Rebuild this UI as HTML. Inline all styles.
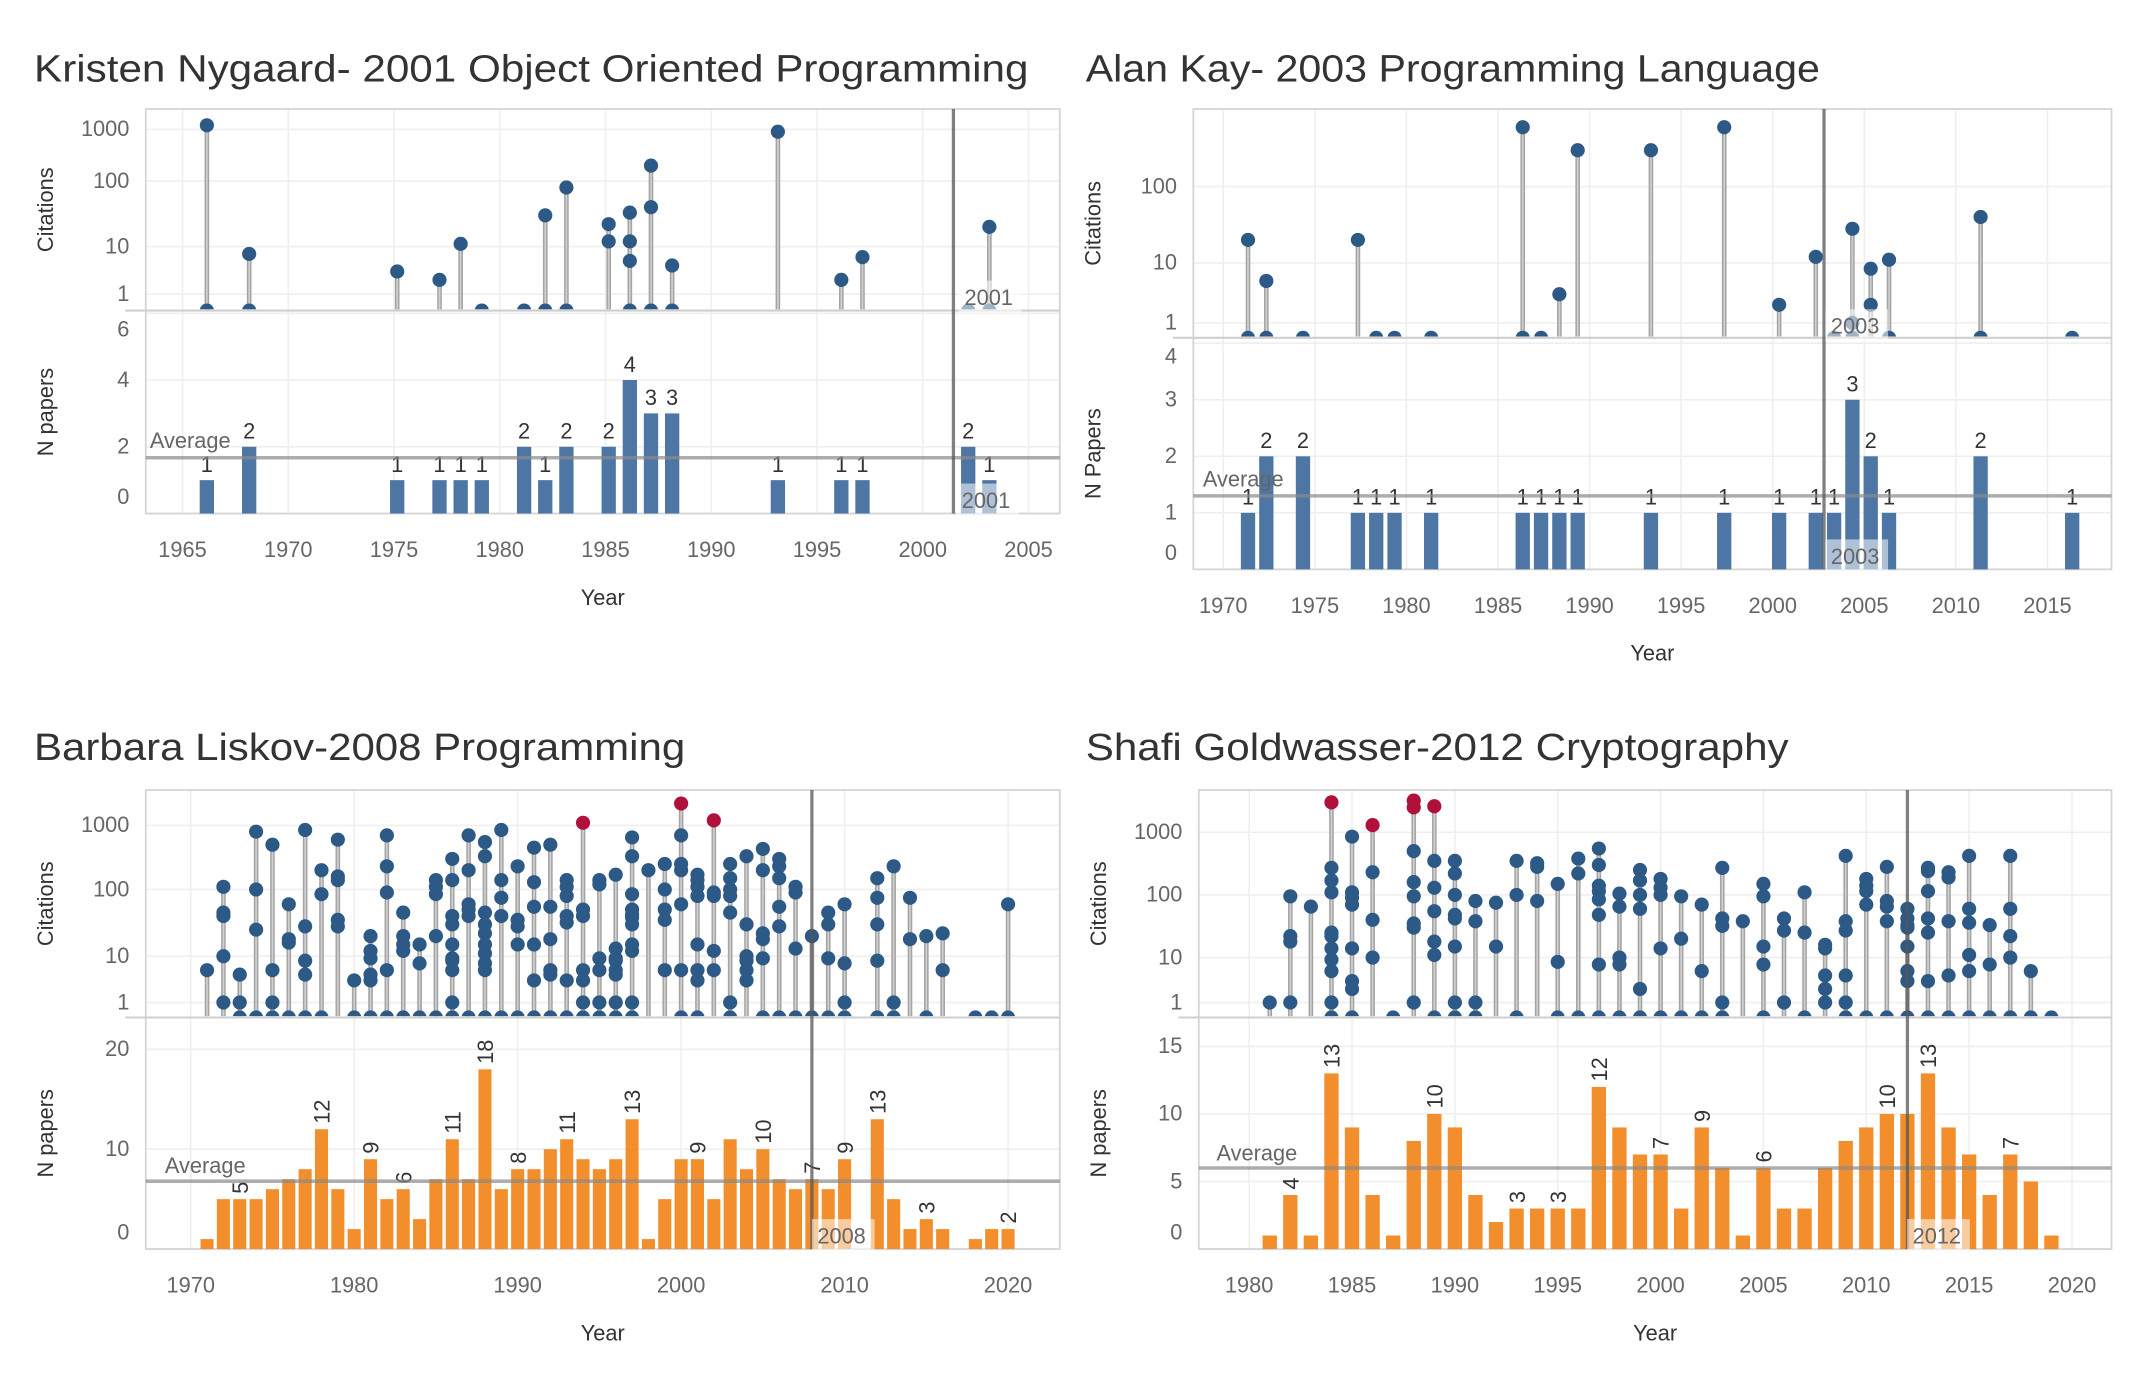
<!DOCTYPE html>
<html><head><meta charset="utf-8"><style>
html,body{margin:0;padding:0;background:#fff;}
svg{display:block;font-family:"Liberation Sans",sans-serif;}
</style></head><body>
<svg id="chart" width="2136" height="1388" viewBox="0 0 1568 1019" preserveAspectRatio="none" xmlns="http://www.w3.org/2000/svg"></svg>
<script>
// ===== DATA =====
const nygaardCitations = [[1966,[1200,0]],[1968,[7,0]],[1975,[3]],[1977,[2]],[1978,[11]],[1979,[0]],[1981,[0]],[1982,[30,0]],[1983,[80,0]],[1985,[22,12]],[1986,[33,12,5,0]],[1987,[200,40,0]],[1988,[4,0]],[1993,[900]],[1996,[2]],[1997,[6]],[2002,[0]],[2003,[20,0]]];
const nygaardBarYears = [1966,1968,1975,1977,1978,1979,1981,1982,1983,1985,1986,1987,1988,1993,1996,1997,2002,2003];
const nygaardBarCounts = [1,2,1,1,1,1,2,1,2,2,4,3,3,1,1,1,2,1];

const kayCitations = [[1971,[20,0]],[1972,[5,0]],[1974,[0]],[1977,[20]],[1978,[0]],[1979,[0]],[1981,[0]],[1986,[600,0]],[1987,[0]],[1988,[3]],[1989,[300]],[1993,[300]],[1997,[600]],[2000,[2]],[2002,[12]],[2003,[0]],[2004,[28,1,0]],[2005,[8,2]],[2006,[11,0]],[2011,[40,0]],[2016,[0]]];
const kayBarYears = [1971,1972,1974,1977,1978,1979,1981,1986,1987,1988,1989,1993,1997,2000,2002,2003,2004,2005,2006,2011,2016];
const kayBarCounts = [1,2,2,1,1,1,1,1,1,1,1,1,1,1,1,1,3,2,1,2,1];

const liskovCitations = [[1971,[5]],[1972,[110,45,40,10,1]],[1973,[4,1,0]],[1974,[800,100,25,0]],[1975,[500,5,1,0]],[1976,[60,18,16,0]],[1977,[850,28,8,4,0]],[1978,[200,85,0]],[1979,[600,160,140,35,28]],[1980,[3,0]],[1981,[20,12,9,4,3,0]],[1982,[700,230,90,5,0]],[1983,[45,20,15,12,0]],[1984,[15,7,0]],[1985,[140,110,85,20,0]],[1986,[300,140,40,30,15,9,8,5,1,0]],[1987,[700,200,60,50,40,0]],[1988,[550,330,45,30,22,15,11,7,5,0]],[1989,[850,140,75,40,0]],[1990,[230,35,28,15,0]],[1991,[450,130,55,15,3,0]],[1992,[500,55,18,5,4,0]],[1993,[140,110,80,40,32,3,0]],[1994,[1100,50,40,5,3,1,0]],[1995,[140,120,9,5,1,0]],[1996,[170,13,9,8,5,4,1,0]],[1997,[650,330,85,50,42,38,30,15,12,1,0]],[1998,[200]],[1999,[250,100,50,35,5]],[2000,[2200,700,250,200,60,5,0]],[2001,[170,140,110,80,15,5,3,0]],[2002,[1200,90,80,12,5]],[2003,[250,150,100,80,45,1,0]],[2004,[330,30,10,8,5,3]],[2005,[430,200,22,18,9,0]],[2006,[300,230,150,55,28,0]],[2007,[110,90,13,0]],[2008,[20,0]],[2009,[45,30,9,0]],[2010,[60,7,1,0]],[2012,[150,75,30,8,0]],[2013,[230,1,0]],[2014,[75,18]],[2015,[20,0]],[2016,[22,5]],[2018,[0]],[2019,[0]],[2020,[60,0]]];
const liskovBarYears = [1971,1972,1973,1974,1975,1976,1977,1978,1979,1980,1981,1982,1983,1984,1985,1986,1987,1988,1989,1990,1991,1992,1993,1994,1995,1996,1997,1998,1999,2000,2001,2002,2003,2004,2005,2006,2007,2008,2009,2010,2012,2013,2014,2015,2016,2018,2019,2020];
const liskovBarCounts = [1,5,5,5,6,7,8,12,6,2,9,5,6,3,7,11,7,18,6,8,8,10,11,9,8,9,13,1,5,9,9,5,11,8,10,7,6,7,6,9,13,5,2,3,2,1,2,2];
const liskovLabelYears = [1973,1978,1981,1983,1986,1988,1990,1993,1997,2001,2005,2008,2010,2012,2015,2020];

const goldwasserCitations = [[1981,[1]],[1982,[95,22,18,1]],[1983,[65]],[1984,[3000,270,170,110,25,22,14,9,5,1,0]],[1985,[850,110,90,70,14,3,2,0]],[1986,[1300,230,40,10]],[1987,[0]],[1988,[3200,2500,500,160,95,35,30,1]],[1989,[2600,350,130,55,18,11,0]],[1990,[350,220,100,48,42,15,1,0]],[1991,[80,38,1,0]],[1992,[75,15]],[1993,[350,100,0]],[1994,[320,280,80]],[1995,[150,8,0]],[1996,[380,220,0]],[1997,[550,300,140,115,85,48,7,0]],[1998,[105,65,10,7,0]],[1999,[250,170,100,60,2,0]],[2000,[180,130,100,14,0]],[2001,[95,20,0]],[2002,[70,5,0]],[2003,[270,42,32,1,0]],[2004,[38]],[2005,[150,95,15,7,0]],[2006,[42,27,1]],[2007,[110,25,0]],[2008,[16,14,4,2,1]],[2009,[420,38,27,4,1,0]],[2010,[180,140,115,70,0]],[2011,[280,80,65,38,0]],[2012,[60,42,33,30,15,5,3,0]],[2013,[270,240,115,42,25,3,0]],[2014,[230,190,38,4,0]],[2015,[420,60,36,11,5,0]],[2016,[33,7,0]],[2017,[420,60,22,10,0]],[2018,[5,0]],[2019,[0]]];
const goldwasserBarYears = [1981,1982,1983,1984,1985,1986,1987,1988,1989,1990,1991,1992,1993,1994,1995,1996,1997,1998,1999,2000,2001,2002,2003,2004,2005,2006,2007,2008,2009,2010,2011,2012,2013,2014,2015,2016,2017,2018,2019];
const goldwasserBarCounts = [1,4,1,13,9,4,1,8,10,9,4,2,3,3,3,3,12,9,7,7,3,9,6,1,6,3,3,6,8,9,10,10,13,9,7,4,7,5,1];
const goldwasserLabelYears = [1982,1984,1989,1993,1995,1997,2000,2002,2005,2011,2013,2017];

const awardYears = [2001,2003,2008,2012];
const averages = [1.67,1.3,6.8,6.0];
const citTickLabels = ["1","10","100","1000"];

// ===== LAYOUT =====
const panels = [
 {id:'nygaard',title:'Kristen Nygaard- 2001 Object Oriented Programming',titleX:25,titleW:730,cit:nygaardCitations,by:nygaardBarYears,bc:nygaardBarCounts,labels:null,
  L:107,R:778,T:80,M:228,B:377,ya:1965,xa:134,yb:2005,xb:755,off:0.15,awardOff:0.45,citPos:[216,181,133,95],zero:377,unit:24.5,
  pTicks:[0,2,4,6],xTicks:[1965,1970,1975,1980,1985,1990,1995,2000,2005],color:'#4e76a5',red:false,papersTitle:'N papers',titleY:60,avgLabel:[110,329],annot:[[708,221],[706,370]]},
 {id:'kay',title:'Alan Kay- 2003 Programming Language',titleX:797,titleW:539,cit:kayCitations,by:kayBarYears,bc:kayBarCounts,labels:null,
  L:876,R:1550,T:80,M:248,B:418,ya:1970,xa:898,yb:2015,xb:1503,off:0.35,awardOff:-0.2,citPos:[237,193,137,81],zero:418,unit:41.5,
  pTicks:[0,1,2,3,4],xTicks:[1970,1975,1980,1985,1990,1995,2000,2005,2010,2015],color:'#4e76a5',red:false,papersTitle:'N Papers',titleY:60,avgLabel:[883,357],annot:[[1344,242],[1344,411]]},
 {id:'liskov',title:'Barbara Liskov-2008 Programming',titleX:25,titleW:478,cit:liskovCitations,by:liskovBarYears,bc:liskovBarCounts,labels:liskovLabelYears,
  L:107,R:778,T:580,M:747,B:917,ya:1970,xa:140,yb:2020,xb:740,off:0,awardOff:0,citPos:[736,702,653,606],zero:917,unit:7.33,
  pTicks:[0,10,20],xTicks:[1970,1980,1990,2000,2010,2020],color:'#f28e2b',red:true,papersTitle:'N papers',titleY:558,avgLabel:[121,861],annot:[[600,910]]},
 {id:'goldwasser',title:'Shafi Goldwasser-2012 Cryptography',titleX:797,titleW:516,cit:goldwasserCitations,by:goldwasserBarYears,bc:goldwasserBarCounts,labels:goldwasserLabelYears,
  L:880,R:1550,T:580,M:747,B:917,ya:1980,xa:917,yb:2020,xb:1521,off:0,awardOff:0,citPos:[736,703,657,611],zero:917,unit:9.92,
  pTicks:[0,5,10,15],xTicks:[1980,1985,1990,1995,2000,2005,2010,2015,2020],color:'#f28e2b',red:true,papersTitle:'N papers',titleY:558,avgLabel:[893,852],annot:[[1404,910]]}
];

const NS='http://www.w3.org/2000/svg';
const svg=document.getElementById('chart');
function mk(tag,attrs,parent,text){const e=document.createElementNS(NS,tag);for(const k in attrs)e.setAttribute(k,attrs[k]);if(text!==undefined)e.textContent=text;(parent||svg).appendChild(e);return e;}
const defs=mk('defs',{});

panels.forEach((p,pi)=>{
  const g=mk('g',{});
  
  
  const x=y=>p.xa+(y-p.ya)*(p.xb-p.xa)/(p.yb-p.ya);
  const ppy=(p.xb-p.xa)/(p.yb-p.ya);
  const base=p.M;
  const citY=c=>{ if(c<=0) return base; const l=Math.log10(c); const cp=p.citPos;
    if(l<=1) return cp[0]+(cp[1]-cp[0])*l;
    if(l<=2) return cp[1]+(cp[2]-cp[1])*(l-1);
    return cp[2]+(cp[3]-cp[2])*(l-2); };
  const py=v=>p.zero-v*p.unit;

  const cp=mk('clipPath',{id:'clip-'+p.id},defs);
  mk('rect',{x:p.L,y:p.T-20,width:p.R-p.L,height:p.M-p.T+19},cp);

  const t=mk('text',{x:p.titleX,y:p.titleY,'font-size':28,fill:'#333',textLength:p.titleW,lengthAdjust:'spacingAndGlyphs'},g,p.title);
  
  

  // gridlines
  p.xTicks.forEach(yr=>{ const l=mk('line',{x1:x(yr),x2:x(yr),y1:p.T,y2:p.B,stroke:'#efefef','stroke-width':1.2},g);
     });
  p.citPos.forEach((yy,i)=>{ if(yy<p.T+8) return; const l=mk('line',{x1:p.L,x2:p.R,y1:yy,y2:yy,stroke:'#efefef','stroke-width':1.2},g);
     
    const tl=mk('text',{x:p.L-12,y:yy+5,'font-size':16,fill:'#666','text-anchor':'end'},g,citTickLabels[i]);
     });
  p.pTicks.forEach(v=>{ const yy=py(v); const l=mk('line',{x1:p.L,x2:p.R,y1:yy,y2:yy,stroke:'#efefef','stroke-width':1.2},g);
     
    const ly=Math.min(Math.max(yy,p.M+14),p.B-12);
    const tl=mk('text',{x:p.L-12,y:ly+5,'font-size':16,fill:'#666','text-anchor':'end'},g,String(v));
     });

  // frame
  const fr=mk('rect',{x:p.L,y:p.T,width:p.R-p.L,height:p.B-p.T,fill:'none',stroke:'#d4d4d4','stroke-width':1.3},g);
   

  // bars
  p.by.forEach((yr,i)=>{ const cx=x(yr+p.off); const w=Math.min(10.5,ppy*0.8); const v=p.bc[i];
    const r=mk('rect',{x:cx-w/2,y:py(v),width:w,height:v*p.unit,fill:p.color},g);
     
    if(!p.labels){ const tl=mk('text',{x:cx,y:py(v)-6,'font-size':16,fill:'#333','text-anchor':'middle'},g,String(v));
        }
    else if(p.labels.indexOf(yr)>=0){ const lx=cx+6, ly=py(v)-4;
      const tl=mk('text',{x:lx,y:ly,'font-size':16,fill:'#333',transform:'rotate(-90 '+lx+' '+ly+')'},g,String(v));
        }
  });

  // lollipops (clipped to citation pane)
  const lg=mk('g',{'clip-path':'url(#clip-'+p.id+')'},g);
  
  
  p.cit.forEach(([yr,vals])=>{ const cx=x(yr+p.off); const mx=Math.max(...vals);
    const st=mk('line',{x1:cx,x2:cx,y1:base,y2:citY(mx),stroke:'#a4a4a4','stroke-width':3.4},lg);
     
    mk('line',{x1:cx,x2:cx,y1:base,y2:citY(mx),stroke:'#d0d0d0','stroke-width':1.2},lg);
    vals.forEach(v=>{ const c=mk('circle',{cx:cx,cy:citY(v),r:5.2,fill:(p.red&&v>1000)?'#b0103a':'#2d5986'},lg);
        });
  });
  const sep=mk('line',{x1:p.L-15,x2:p.R,y1:p.M,y2:p.M,stroke:'#cfcfcf','stroke-width':1.5},g);
   

  // average line
  const ay=py(averages[pi]);
  const al=mk('line',{x1:p.L,x2:p.R,y1:ay,y2:ay,stroke:'#8a8a8a','stroke-width':2.6,'stroke-opacity':0.7},g);
   
  const at=mk('text',{x:p.avgLabel[0],y:p.avgLabel[1],'font-size':16,fill:'#666'},g,'Average');
   

  // award line
  const ax=x(awardYears[pi]+p.awardOff);
  const aw=mk('line',{x1:ax,x2:ax,y1:p.T,y2:p.B,stroke:'#555','stroke-width':2.4,'stroke-opacity':0.75},g);
   
  p.annot.forEach(([tx,ty])=>{ const b=mk('rect',{x:tx-4,y:ty-15,width:46,height:24,fill:'#fff','fill-opacity':0.55},g);
     
    const tt=mk('text',{x:tx,y:ty+3,'font-size':16,fill:'#666'},g,String(awardYears[pi]));
      });

  // x ticks
  p.xTicks.forEach(yr=>{ const tl=mk('text',{x:x(yr),y:p.B+32,'font-size':16,fill:'#666','text-anchor':'middle'},g,String(yr));
     });
  const xt=mk('text',{x:(p.L+p.R)/2,y:p.B+67,'font-size':16,fill:'#333','text-anchor':'middle'},g,'Year');
   
  const cxp=p.L-68, cyp=(p.T+p.M)/2;
  const ct=mk('text',{x:cxp,y:cyp,'font-size':16,fill:'#333','text-anchor':'middle',transform:'rotate(-90 '+cxp+' '+cyp+')'},g,'Citations');
   
  const pyy=(p.M+p.B)/2;
  const pt=mk('text',{x:cxp,y:pyy,'font-size':16,fill:'#333','text-anchor':'middle',transform:'rotate(-90 '+cxp+' '+pyy+')'},g,p.papersTitle);
   
});
</script>
</body></html>
